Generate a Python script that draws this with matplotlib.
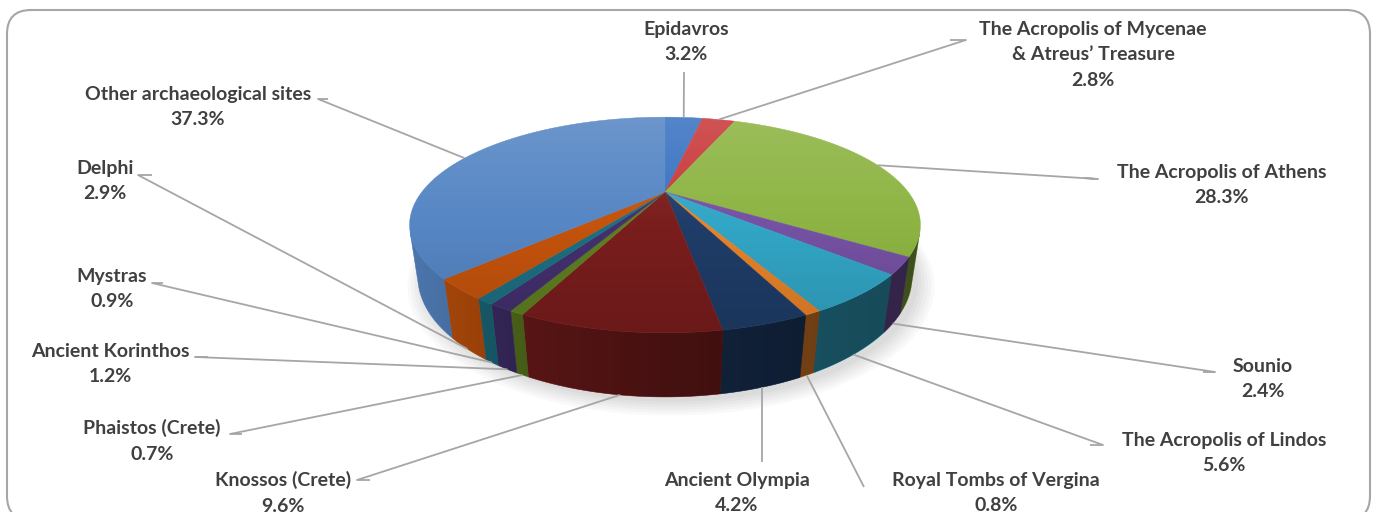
import numpy as np
import matplotlib.pyplot as plt
from matplotlib.patches import Polygon, FancyBboxPatch
import matplotlib.colors as mcolors

# data
sites = ['Epidavros', 'The Acropolis of Mycenae\n& Atreus\u2019 Treasure',
         'The Acropolis of Athens', 'Sounio', 'The Acropolis of Lindos',
         'Royal Tombs of Vergina', 'Ancient Olympia', 'Knossos (Crete)',
         'Phaistos (Crete)', 'Ancient Korinthos', 'Mystras', 'Delphi',
         'Other archaeological sites']
shares = [3.2, 2.8, 28.3, 2.4, 5.6, 0.8, 4.2, 9.6, 0.7, 1.2, 0.9, 2.9, 37.3]
colours = ['#3A73C2', '#C93A3C', '#8DB443', '#7551A3', '#32A6C6', '#E88328',
           '#1F3D68', '#7A1D1D', '#5F7F20', '#43306E', '#1D6F82', '#C4530C',
           '#5686C4']

# label layout (pixel coords, y down)
label_pos = [(686, 42), (1093, 55), (1222, 185), (1263, 379), (1224, 453),
             (996, 493), (737, 493), (283, 493), (152, 441), (110, 364),
             (112, 289), (105, 181), (198, 107)]
elbows = [[(684, 72)], [(966, 40), (950, 40)], [(1098, 179), (1084, 178)],
          [(1215, 372), (1203, 372)], [(1103, 445), (1090, 445)],
          [(864, 487)], [(None, 462)], [(357, 480), (370, 480)],
          [(230, 434), (242, 434)], [(195, 357), (208, 357)],
          [(152, 283), (163, 283)], [(138, 175), (152, 175)],
          [(318, 99), (328, 99)]]

# projection of a tilted disc (perspective)
cx, cy = 665, 192
f, D, elev, h = 727.8, 2.993, np.radians(23.7), 0.228
ce, se = np.cos(elev), np.sin(elev)


def proj(X, Y, Z):
    depth = D + Y * ce - Z * se
    return cx + f * X / depth, cy - f * (Y * se + Z * ce) / depth


fig = plt.figure(figsize=(13.81, 5.12), dpi=100)
ax = fig.add_axes([0, 0, 1, 1])
ax.set_xlim(0, 1381)
ax.set_ylim(512, 0)
ax.axis('off')

# frame
frame = FancyBboxPatch((7, 10), 1363, 510, boxstyle='round,pad=0,rounding_size=24',
                       fc='white', ec='#A6A6A6', lw=1.5, zorder=0)
ax.add_patch(frame)

fr = np.array(shares) / np.sum(shares)
bounds = np.concatenate([[0], np.cumsum(fr)])
ang0 = np.pi / 2 - 2 * np.pi * bounds[:-1]
ang1 = np.pi / 2 - 2 * np.pi * bounds[1:]
vis = -1.0 / (D * ce)
phi_l = np.pi + np.arcsin(-vis)      # left silhouette
phi_r = 2 * np.pi - np.arcsin(-vis)  # right silhouette

# soft shadow
tt = np.linspace(0, 2 * np.pi, 200)
for s in np.linspace(1.06, 1.0, 6):
    sx, sy = proj(s * np.cos(tt), s * np.sin(tt), -h)
    ax.add_patch(Polygon(np.column_stack([sx + 6, sy + 5]), closed=True,
                         fc='#000000', ec='none', alpha=0.025, zorder=1))


def wall_poly(a, b):
    phi = np.linspace(a, b, max(3, int(abs(b - a) * 150)))
    xt, yt = proj(np.cos(phi), np.sin(phi), 0)
    xb, yb = proj(np.cos(phi), np.sin(phi), -h)
    return np.vstack([np.column_stack([xt, yt]), np.column_stack([xb, yb])[::-1]])


# walls, each slice clipped to the visible front arc
lo, hi = phi_l - 2 * np.pi, phi_r - 2 * np.pi
for k in range(len(shares)):
    a, b = ang0[k], ang1[k]
    top_, bot_ = min(a, hi), max(b, lo)
    if top_ > bot_:
        ax.add_patch(Polygon(wall_poly(top_, bot_), closed=True, fc=colours[k],
                             ec=colours[k], lw=0.4, zorder=2))

# darkening across the wall
wall_outline = Polygon(wall_poly(hi, lo), closed=True, fc='none', ec='none')
ax.add_patch(wall_outline)
wx, wy = wall_poly(hi, lo).T
gx = np.linspace(-1, 1, 300)[None, :]
wgrad = np.zeros((2, 300, 4))
wgrad[..., 3] = 1 - (0.58 - 0.22 * gx + 0.08 * gx ** 2)
wimg = ax.imshow(wgrad, extent=(wx.min(), wx.max(), wy.max(), wy.min()),
                 aspect='auto', zorder=2.5, interpolation='bilinear')
wimg.set_clip_path(wall_outline)

# top faces
for k in range(len(shares)):
    phi = np.linspace(ang0[k], ang1[k], max(4, int(abs(ang1[k] - ang0[k]) * 120)))
    px, py = proj(np.cos(phi), np.sin(phi), 0)
    pts = np.vstack([[cx, cy], np.column_stack([px, py])])
    ax.add_patch(Polygon(pts, closed=True, fc=colours[k], ec=colours[k], lw=0.3, zorder=3))

# gradient on top
ex, ey = proj(np.cos(tt), np.sin(tt), 0)
top_outline = Polygon(np.column_stack([ex, ey]), closed=True, fc='none', ec='none')
ax.add_patch(top_outline)
gy = np.linspace(0, 1, 200)[:, None]
grad = np.zeros((200, 2, 4))
grad[..., :3] = np.where(gy[..., None] < 0.5, 1.0, 0.0)
grad[..., 3] = np.abs(gy - 0.5) * 0.26
img = ax.imshow(grad, extent=(ex.min(), ex.max(), ey.max(), ey.min()),
                aspect='auto', zorder=4, interpolation='bilinear')
img.set_clip_path(top_outline)

# labels and leader lines
mids = 0.5 * (ang0 + ang1)
for k in range(len(shares)):
    m = mids[k]
    z = -h if np.sin(m) < vis else 0
    axp, ayp = proj(np.cos(m), np.sin(m), z)
    path = [(axp, ayp)]
    for (ex_, ey_) in elbows[k]:
        path.append((axp if ex_ is None else ex_, ey_))
    path = np.array(path, dtype=float)
    ax.plot(path[:, 0], path[:, 1], color='#A6A6A6', lw=1.3, zorder=5,
            solid_capstyle='butt')
    lx, ly = label_pos[k]
    ax.text(lx, ly, '%s\n%.1f%%' % (sites[k], shares[k]), ha='center', va='center',
            fontsize=14, fontweight='bold', color='#404040', family='Lato',
            linespacing=1.62, zorder=6)

fig.savefig('out.png', dpi=100)
